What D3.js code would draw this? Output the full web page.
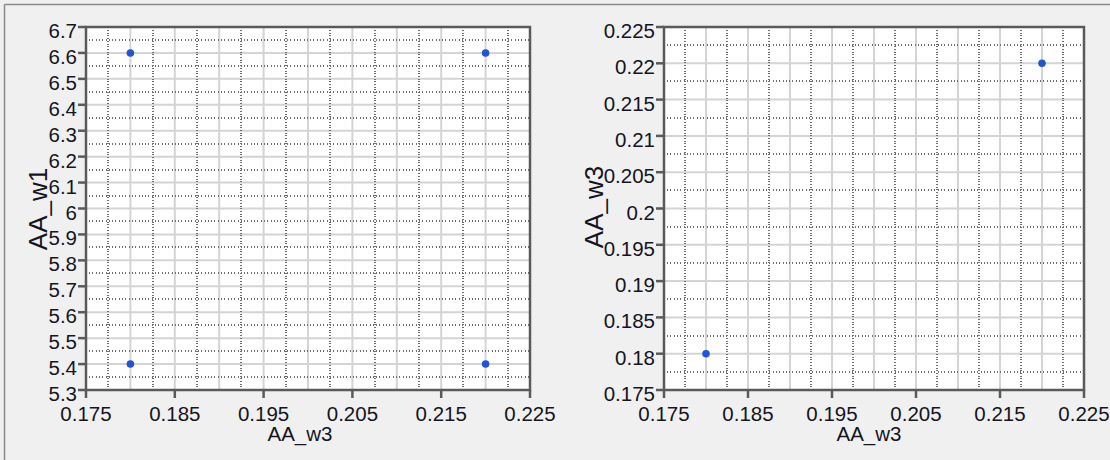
<!DOCTYPE html>
<html>
<head>
<meta charset="utf-8">
<script src="https://cdn.jsdelivr.net/npm/d3@7"></script>
<style>
  body { margin: 0; background: #f0f0f0; }
  svg { display: block; font-family: "Liberation Sans", Arial, sans-serif; }
</style>
</head>
<body>
<div id="chart"></div>
<script>
// data
const xTicks = [0.175, 0.185, 0.195, 0.205, 0.215, 0.225];
const leftYTicks = [6.7, 6.6, 6.5, 6.4, 6.3, 6.2, 6.1, 6.0, 5.9, 5.8, 5.7, 5.6, 5.5, 5.4, 5.3];
const rightYTicks = [0.225, 0.22, 0.215, 0.21, 0.205, 0.2, 0.195, 0.19, 0.185, 0.18, 0.175];
const leftX = [0.18, 0.22, 0.18, 0.22];
const leftY = [6.6, 6.6, 5.4, 5.4];
const rightX = [0.22, 0.18];
const rightY = [0.22, 0.18];

const width = 1110, height = 460;
const svg = d3.select("#chart").append("svg")
  .attr("width", width)
  .attr("height", height);

svg.append("rect").attr("width", width).attr("height", height).attr("fill", "#f0f0f0");
// outer frame, only top and left are visible
svg.append("line").attr("x1", 4.5).attr("x2", width).attr("y1", 4.5).attr("y2", 4.5)
  .attr("stroke", "#8a8a8a").attr("stroke-width", 1.5);
svg.append("line").attr("x1", 4.5).attr("x2", 4.5).attr("y1", 4.5).attr("y2", height)
  .attr("stroke", "#8a8a8a").attr("stroke-width", 1.5);

const fmt = d => String(+d.toFixed(4));

function panel(opt) {
  const x = d3.scaleLinear().domain(d3.extent(xTicks)).range([opt.left, opt.right]);
  const y = d3.scaleLinear().domain(d3.extent(opt.yTicks)).range([opt.bottom, opt.top]);
  const g = svg.append("g");

  g.append("rect")
    .attr("x", opt.left).attr("y", opt.top)
    .attr("width", opt.right - opt.left).attr("height", opt.bottom - opt.top)
    .attr("fill", "#fff");

  const xd = x.domain(), yd = y.domain();
  const xStep = 0.005, yStep = opt.yStep;
  const xMajor = d3.range(1, Math.round((xd[1] - xd[0]) / xStep)).map(i => xd[0] + i * xStep);
  const xMinor = d3.range(0, Math.round((xd[1] - xd[0]) / xStep)).map(i => xd[0] + (i + 0.5) * xStep);
  const yMajor = d3.range(1, Math.round((yd[1] - yd[0]) / yStep)).map(i => yd[0] + i * yStep);
  const yMinor = d3.range(0, Math.round((yd[1] - yd[0]) / yStep)).map(i => yd[0] + (i + 0.5) * yStep);

  // major grid
  g.append("g").selectAll("line").data(xMajor).join("line")
    .attr("x1", d => x(d)).attr("x2", d => x(d))
    .attr("y1", opt.top).attr("y2", opt.bottom)
    .attr("stroke", "#d4d4d4").attr("stroke-width", 2);
  g.append("g").selectAll("line").data(yMajor).join("line")
    .attr("y1", d => y(d)).attr("y2", d => y(d))
    .attr("x1", opt.left).attr("x2", opt.right)
    .attr("stroke", "#d4d4d4").attr("stroke-width", 2);
  // minor dotted grid
  g.append("g").selectAll("line").data(xMinor).join("line")
    .attr("x1", d => Math.round(x(d))).attr("x2", d => Math.round(x(d)))
    .attr("y1", opt.top + 3).attr("y2", opt.bottom)
    .attr("stroke", "#707070").attr("stroke-width", 2)
    .attr("stroke-dasharray", "1,1.7")
    .attr("shape-rendering", "crispEdges");
  g.append("g").selectAll("line").data(yMinor).join("line")
    .attr("y1", d => Math.round(y(d))).attr("y2", d => Math.round(y(d)))
    .attr("x1", opt.left + 3).attr("x2", opt.right)
    .attr("stroke", "#707070").attr("stroke-width", 2)
    .attr("stroke-dasharray", "1,2.3")
    .attr("shape-rendering", "crispEdges");

  // frame
  g.append("rect")
    .attr("x", opt.left).attr("y", opt.top)
    .attr("width", opt.right - opt.left).attr("height", opt.bottom - opt.top)
    .attr("fill", "none").attr("stroke", "#5a5a5a").attr("stroke-width", 2.5);

  // ticks
  g.append("g").selectAll("line").data(opt.yTicks).join("line")
    .attr("x1", opt.left - 8).attr("x2", opt.left)
    .attr("y1", d => y(d)).attr("y2", d => y(d))
    .attr("stroke", "#5a5a5a").attr("stroke-width", 2.5);
  g.append("g").selectAll("line").data(xTicks).join("line")
    .attr("y1", opt.bottom).attr("y2", opt.bottom + 8)
    .attr("x1", d => x(d)).attr("x2", d => x(d))
    .attr("stroke", "#5a5a5a").attr("stroke-width", 2.5);

  // tick labels
  g.append("g").selectAll("text").data(opt.yTicks).join("text")
    .attr("x", opt.left - 9).attr("y", d => y(d) + 11)
    .attr("text-anchor", "end").attr("font-size", 20.5).attr("fill", "#15151f")
    .text(fmt);
  g.append("g").selectAll("text").data(xTicks).join("text")
    .attr("x", d => x(d)).attr("y", opt.bottom + 31)
    .attr("text-anchor", "middle").attr("font-size", 20.5).attr("fill", "#15151f")
    .text(fmt);

  // axis titles
  g.append("text")
    .attr("transform", `translate(${opt.yTitleX},${opt.yTitleY}) rotate(-90)`)
    .attr("text-anchor", "middle").attr("font-size", 26).attr("fill", "#15151f")
    .text(opt.yTitle);
  g.append("text")
    .attr("x", opt.xTitleX).attr("y", 441)
    .attr("text-anchor", "middle").attr("font-size", 20.5).attr("fill", "#15151f")
    .text(opt.xTitle);

  // points
  g.append("g").selectAll("circle").data(d3.range(opt.xs.length)).join("circle")
    .attr("cx", i => x(opt.xs[i])).attr("cy", i => y(opt.ys[i]))
    .attr("r", 3.8).attr("fill", "#2255d4");
}

panel({
  left: 86, right: 530, top: 27, bottom: 390,
  yTicks: leftYTicks, yStep: 0.1,
  xs: leftX, ys: leftY,
  yTitle: "AA_w1", yTitleX: 47, yTitleY: 209,
  xTitle: "AA_w3", xTitleX: 300
});
panel({
  left: 664, right: 1084, top: 27, bottom: 390,
  yTicks: rightYTicks, yStep: 0.005,
  xs: rightX, ys: rightY,
  yTitle: "AA_w3", yTitleX: 603, yTitleY: 207,
  xTitle: "AA_w3", xTitleX: 869
});
</script>
</body>
</html>
